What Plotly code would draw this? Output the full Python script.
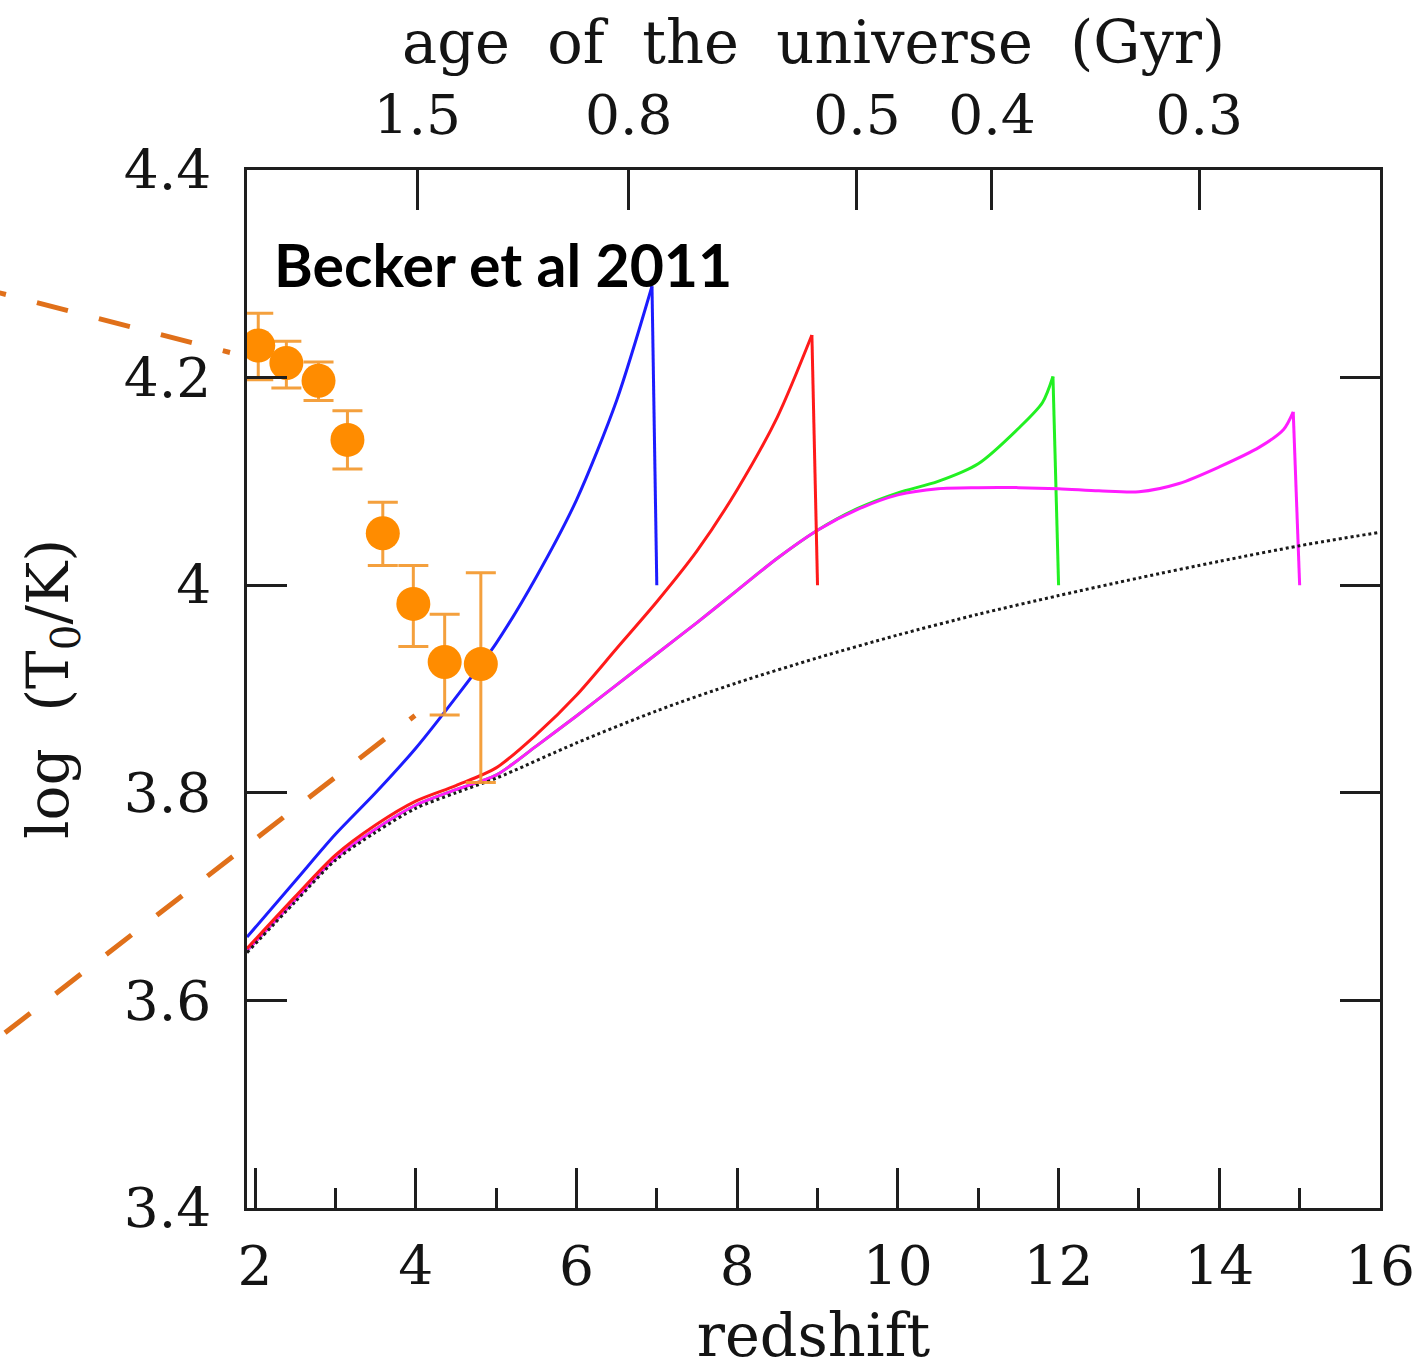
import plotly.graph_objects as go

# ---- Becker et al. (2011) IGM temperature measurements ----
z_becker = [2.04, 2.39, 2.79, 3.15, 3.59, 3.97, 4.36, 4.81]
logT_becker = [4.231, 4.214, 4.197, 4.140, 4.050, 3.982, 3.926, 3.924]
logT_becker_hi = [4.262, 4.235, 4.215, 4.168, 4.080, 4.019, 3.972, 4.012]
logT_becker_lo = [4.198, 4.190, 4.178, 4.112, 4.019, 3.941, 3.875, 3.810]

# ---- model histories, one per reionization redshift ----
# last entry of each list is the foot of the drop at the reionization redshift
z_rei7 = [1.9, 2.5, 3.0, 3.5, 4.0, 4.5, 5.0, 5.5, 6.0, 6.5, 6.94, 7.0]
logT_rei7 = [3.661, 3.715, 3.760, 3.800, 3.843, 3.892, 3.944, 4.008, 4.082,
             4.178, 4.288, 4.000]

z_rei9 = [1.9, 2.5, 3.0, 3.5, 4.0, 4.5, 5.0, 5.5, 6.0, 6.5, 7.0, 7.5, 8.0,
          8.5, 8.93, 9.0]
logT_rei9 = [3.650, 3.700, 3.740, 3.769, 3.792, 3.807, 3.824, 3.856, 3.894,
             3.939, 3.984, 4.033, 4.092, 4.162, 4.241, 4.000]

z_rei12 = [1.9, 2.5, 3.0, 3.5, 4.0, 4.5, 5.0, 5.5, 6.0, 6.5, 7.0, 7.5, 8.0,
           8.5, 9.0, 9.5, 10.0, 10.5, 11.0, 11.5, 11.8, 11.93, 12.0]
logT_rei12 = [3.648, 3.697, 3.737, 3.765, 3.788, 3.803, 3.817, 3.845, 3.874,
              3.904, 3.934, 3.964, 3.995, 4.026, 4.053, 4.074, 4.089, 4.100,
              4.117, 4.151, 4.176, 4.201, 4.000]

z_rei15 = [1.9, 2.5, 3.0, 3.5, 4.0, 4.5, 5.0, 5.5, 6.0, 6.5, 7.0, 7.5, 8.0,
           8.5, 9.0, 9.5, 10.0, 10.5, 11.0, 11.5, 12.0, 12.5, 13.0, 13.5,
           14.0, 14.5, 14.8, 14.92, 15.0]
logT_rei15 = [3.648, 3.697, 3.737, 3.765, 3.788, 3.803, 3.817, 3.845, 3.874,
              3.904, 3.934, 3.964, 3.995, 4.026, 4.053, 4.073, 4.087, 4.093,
              4.094, 4.094, 4.093, 4.091, 4.090, 4.098, 4.114, 4.133, 4.150,
              4.167, 4.000]

# ---- baseline (dotted) ----
z_base = [1.9, 2.5, 3.0, 3.5, 4.0, 4.5, 5.0, 6.0, 7.0, 8.0, 9.0, 10.0, 11.0,
          12.0, 13.0, 14.0, 15.0, 16.0]
logT_base = [3.646, 3.695, 3.735, 3.762, 3.785, 3.800, 3.814, 3.848, 3.879,
             3.906, 3.930, 3.952, 3.972, 3.990, 4.007, 4.023, 4.038, 4.051]

# ---- axes ----
z_ticks = [2, 4, 6, 8, 10, 12, 14, 16]
z_minor = [3, 5, 7, 9, 11, 13, 15]
logT_ticks = [3.4, 3.6, 3.8, 4.0, 4.2, 4.4]
logT_ticktext = ["3.4", "3.6", "3.8", "4", "4.2", "4.4"]
age_tick_z = [4.02, 6.65, 9.49, 11.17, 13.75]
age_ticktext = ["1.5", "0.8", "0.5", "0.4", "0.3"]

W, H = 1427, 1370
ML, MR, MT, MB = 247, 47, 170, 162
SERIF = "DejaVu Serif"
AXC = "#1e1e1e"
NB = "\u00a0"

fig = go.Figure()

models = [(z_rei12, logT_rei12, "#22F022"),
          (z_rei15, logT_rei15, "#FF1CFF"),
          (z_rei9, logT_rei9, "#FF1A1A"),
          (z_rei7, logT_rei7, "#1C1CFF")]
for zz, tt, col in models:
    # smooth heating history up to the peak ...
    fig.add_trace(go.Scatter(x=zz[:-1], y=tt[:-1], mode="lines",
                             line=dict(color=col, width=3, shape="spline",
                                       smoothing=0.8),
                             showlegend=False, hoverinfo="skip"))
    # ... then the sharp drop at the reionization redshift
    fig.add_trace(go.Scatter(x=zz[-2:], y=tt[-2:], mode="lines",
                             line=dict(color=col, width=3),
                             showlegend=False, hoverinfo="skip"))

fig.add_trace(go.Scatter(x=z_base, y=logT_base, mode="lines",
                         line=dict(color="#1a1a1a", width=3, dash="dot",
                                   shape="spline", smoothing=0.8),
                         showlegend=False, hoverinfo="skip"))

err_hi = [h - v for h, v in zip(logT_becker_hi, logT_becker)]
err_lo = [v - l for v, l in zip(logT_becker, logT_becker_lo)]
fig.add_trace(go.Scatter(
    x=z_becker, y=logT_becker, mode="markers",
    marker=dict(size=34, color="#FF8C00", line=dict(width=0)),
    error_y=dict(type="data", symmetric=False, array=err_hi,
                 arrayminus=err_lo, color="rgba(243,152,45,0.92)",
                 thickness=3, width=15),
    showlegend=False, hoverinfo="skip"))

# empty trace so the top (age) axis is laid out
fig.add_trace(go.Scatter(x=[None], y=[None], xaxis="x2", mode="lines",
                         showlegend=False, hoverinfo="skip"))

# orange guide lines running in from the left margin
plot_w = W - ML - MR
plot_h = H - MT - MB


def px_to_paper(px, py):
    return (px - ML) / plot_w, (H - MB - py) / plot_h


guides = [((-87, 270.5), (230, 352.5)), ((-45.6, 1072.0), (415, 715.5))]
shapes = []
for (x0, y0), (x1, y1) in guides:
    a0, b0 = px_to_paper(x0, y0)
    a1, b1 = px_to_paper(x1, y1)
    shapes.append(dict(type="line", xref="paper", yref="paper",
                       x0=a0, y0=b0, x1=a1, y1=b1,
                       line=dict(color="#E0701A", width=5, dash="32px,32px")))

tick_font = dict(family=SERIF, size=55, color="#141414")
title_font = dict(family=SERIF, size=59, color="#141414")

fig.update_layout(
    width=W, height=H, autosize=False,
    margin=dict(l=ML, r=MR, t=MT, b=MB, pad=0, autoexpand=False),
    paper_bgcolor="white", plot_bgcolor="white",
    shapes=shapes,
    xaxis=dict(range=[1.9, 16], tickmode="array", tickvals=z_ticks,
               ticks="inside", ticklen=40, tickwidth=2.5, tickcolor=AXC,
               showline=True, linewidth=2.5, linecolor=AXC, mirror=True,
               showgrid=False, zeroline=False, tickfont=tick_font,
               ticklabelstandoff=8, automargin=False,
               minor=dict(tickmode="array", tickvals=z_minor, ticks="inside",
                          ticklen=20, tickwidth=2.5, tickcolor=AXC,
                          showgrid=False),
               title=dict(text="redshift", font=title_font, standoff=29)),
    xaxis2=dict(range=[1.9, 16], overlaying="x", side="top",
                tickmode="array", tickvals=age_tick_z, ticktext=age_ticktext,
                ticks="inside", ticklen=40, tickwidth=2.5, tickcolor=AXC,
                showline=True, linewidth=2.5, linecolor=AXC,
                showgrid=False, zeroline=False, tickfont=tick_font,
                ticklabelstandoff=11, automargin=False,
                title=dict(text=NB.join(["age", "", "of", "", "the", "",
                                         "universe", "", "(Gyr)"]),
                           font=title_font, standoff=1)),
    yaxis=dict(range=[3.4, 4.4], tickmode="array", tickvals=logT_ticks,
               ticktext=logT_ticktext, ticks="inside", ticklen=40,
               tickwidth=2.5, tickcolor=AXC, showline=True, linewidth=2.5,
               linecolor=AXC, mirror="ticks", showgrid=False, zeroline=False,
               tickfont=tick_font, ticklabelstandoff=22, automargin=False,
               title=dict(text="log" + NB + NB + "(T<sub>0</sub>/K)",
                          font=dict(family=SERIF, size=58, color="#141414"),
                          standoff=37)),
    annotations=[dict(text="<b>Becker et al 2011</b>", xref="paper",
                      yref="paper", x=px_to_paper(272, 0)[0],
                      y=px_to_paper(0, 265)[1], xanchor="left",
                      yanchor="middle", showarrow=False,
                      font=dict(family="Lato", size=59, color="black"))],
)

fig.write_html("out.html")
